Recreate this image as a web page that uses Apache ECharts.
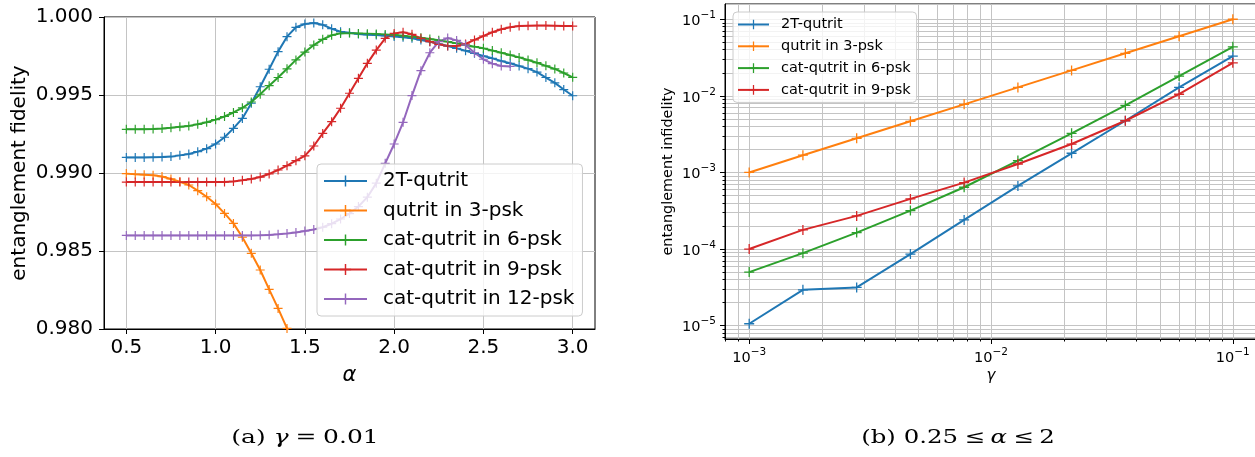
<!DOCTYPE html>
<html>
<head>
<meta charset="utf-8">
<script src="https://cdn.jsdelivr.net/npm/echarts@6/dist/echarts.min.js"></script>
<style>
html,body{margin:0;padding:0;background:#fff;}
#c{width:1255px;height:457px;}
</style>
</head>
<body>
<div id="c"></div>
<script>
// ---------- Panel (a): entanglement fidelity vs alpha (gamma = 0.01) ----------
const alpha = [0.5,0.55,0.6,0.65,0.7,0.75,0.8,0.85,0.9,0.95,1.0,1.05,1.1,1.15,1.2,1.25,1.3,1.35,1.4,1.45,1.5,1.55,1.6,1.65,1.7,1.75,1.8,1.85,1.9,1.95,2.0,2.05,2.1,2.15,2.2,2.25,2.3,2.35,2.4,2.45,2.5,2.55,2.6,2.65,2.7,2.75,2.8,2.85,2.9,2.95,3.0];
const fid2T = [0.99100,0.99100,0.99100,0.99101,0.99102,0.99105,0.99113,0.99122,0.99137,0.99156,0.99186,0.99229,0.99286,0.99350,0.99447,0.99553,0.99665,0.99778,0.99874,0.99934,0.99955,0.99962,0.99950,0.99925,0.99906,0.99899,0.99891,0.99887,0.99884,0.99880,0.99875,0.99870,0.99864,0.99853,0.99842,0.99827,0.99814,0.99799,0.99784,0.99767,0.99750,0.99735,0.99718,0.99703,0.99686,0.99669,0.99647,0.99612,0.99578,0.99535,0.99495];
const fid3psk = [0.98996,0.98992,0.98989,0.98985,0.98977,0.98962,0.98944,0.98923,0.98887,0.98848,0.98801,0.98741,0.98677,0.98588,0.98485,0.98378,0.98254,0.98132,0.98004,0.97870];
const fid6psk = [0.99280,0.99280,0.99281,0.99282,0.99285,0.99290,0.99296,0.99302,0.99312,0.99325,0.99342,0.99362,0.99388,0.99418,0.99455,0.99505,0.99560,0.99612,0.99668,0.99725,0.99775,0.99820,0.99857,0.99883,0.99895,0.99897,0.99895,0.99893,0.99891,0.99888,0.99885,0.99880,0.99874,0.99867,0.99859,0.99851,0.99842,0.99831,0.99820,0.99810,0.99799,0.99785,0.99771,0.99756,0.99741,0.99724,0.99707,0.99687,0.99667,0.99641,0.99613];
const fid9psk = [0.98942,0.98942,0.98942,0.98942,0.98942,0.98942,0.98942,0.98942,0.98942,0.98942,0.98942,0.98943,0.98946,0.98953,0.98962,0.98974,0.98994,0.99019,0.99047,0.99079,0.99110,0.99173,0.99254,0.99329,0.99415,0.99511,0.99607,0.99703,0.99788,0.99863,0.99895,0.99902,0.99889,0.99863,0.99842,0.99825,0.99814,0.99814,0.99827,0.99853,0.99878,0.99902,0.99921,0.99934,0.99942,0.99944,0.99945,0.99945,0.99944,0.99943,0.99942];
const fid12psk = [0.98600,0.98600,0.98600,0.98600,0.98600,0.98600,0.98600,0.98600,0.98600,0.98600,0.98600,0.98600,0.98600,0.98600,0.98600,0.98601,0.98603,0.98607,0.98612,0.98619,0.98628,0.98638,0.98652,0.98675,0.98705,0.98740,0.98785,0.98845,0.98935,0.99062,0.99186,0.99325,0.99496,0.99656,0.99771,0.99842,0.99865,0.99850,0.99820,0.99771,0.99729,0.99701,0.99686,0.99683];
const leftXTicks = [0.5,1.0,1.5,2.0,2.5,3.0];

// ---------- Panel (b): entanglement infidelity vs gamma ----------
const gamma = [0.001,0.001668,0.002783,0.004642,0.007743,0.01292,0.02154,0.03594,0.05995,0.1];
const inf2T = [1.06e-5,2.94e-5,3.16e-5,8.59e-5,2.40e-4,6.67e-4,1.78e-3,4.73e-3,1.29e-2,3.30e-2];
const inf3psk = [0.00100,0.00168,0.00279,0.00465,0.00775,0.0129,0.0215,0.0359,0.0600,0.100];
const inf6psk = [5.0e-5,8.85e-5,1.64e-4,3.18e-4,6.41e-4,1.43e-3,3.24e-3,7.50e-3,1.81e-2,4.36e-2];
const inf9psk = [1.0e-4,1.78e-4,2.71e-4,4.52e-4,7.37e-4,1.29e-3,2.35e-3,4.73e-3,1.05e-2,2.70e-2];

const names = ['2T-qutrit','qutrit in 3-psk','cat-qutrit in 6-psk','cat-qutrit in 9-psk','cat-qutrit in 12-psk'];
const colors = ['#1f77b4','#ff7f0e','#2ca02c','#d62728','#9467bd'];

// minor log grid positions (k * 10^n)
const minorX = [], minorY = [];
for (let n = -4; n <= -1; n++) for (let k = 2; k <= 9; k++) {
  const v = +(k * Math.pow(10, n)).toPrecision(3);
  if (v > Math.pow(10,-3.1) && v < Math.pow(10,-0.9)) minorX.push(v);
}
for (let n = -6; n <= -1; n++) for (let k = 2; k <= 9; k++) {
  const v = +(k * Math.pow(10, n)).toPrecision(3);
  if (v > Math.pow(10,-5.174) && v < Math.pow(10,-0.801)) minorY.push(v);
}

const plus = 'path://M4.35,0h1.3v10h-1.3zM0,4.35h10v1.3h-10z';
const FONT = 'DejaVu Sans';

function mk(name, color, xs, ys, xi, yi, size) {
  return {
    name: name, type: 'line', xAxisIndex: xi, yAxisIndex: yi,
    data: ys.map((v, i) => [xs[i], v]),
    symbol: plus, symbolSize: size, showAllSymbol: true,
    lineStyle: { width: 2, color: color },
    itemStyle: { color: color },
    clip: true, animation: false, z: 3
  };
}

const logLabel = v => {
  const e = Math.round(Math.log10(v));
  return '{b|10}{s|' + (e < 0 ? '\u2212' : '') + Math.abs(e) + '}';
};
const logRich = {
  b: { fontSize: 14.5, fontFamily: FONT, color: '#000', lineHeight: 19, verticalAlign: 'bottom' },
  s: { fontSize: 10.5, fontFamily: FONT, color: '#000', lineHeight: 12, verticalAlign: 'top' }
};
const gridLine = { show: true, lineStyle: { color: '#c4c4c4', width: 1 } };
const axLine = { show: true, lineStyle: { color: '#000', width: 1 } };
const SERIF = 'DejaVu Serif';

const option = {
  backgroundColor: '#fff',
  animation: false,
  textStyle: { fontFamily: FONT },
  grid: [
    { left: 104, top: 17, width: 491, height: 312, show: true, borderColor: '#000', borderWidth: 1, containLabel: false, outerBoundsMode: 'none' },
    { left: 725, top: 4, width: 532, height: 335, show: true, borderColor: '#000', borderWidth: 1, containLabel: false, outerBoundsMode: 'none' }
  ],
  xAxis: [
    { gridIndex: 0, type: 'value', min: 0.375, max: 3.125,
      axisLine: axLine,
      axisTick: { show: true, length: 5, customValues: leftXTicks, lineStyle: { color: '#000' } },
      axisLabel: { customValues: leftXTicks, formatter: v => v.toFixed(1), fontSize: 20, color: '#000', fontFamily: FONT, margin: 9 },
      splitLine: gridLine,
      name: '\u03b1', nameLocation: 'middle', nameGap: 36, nameMoveOverlap: false,
      nameTextStyle: { fontSize: 21, fontStyle: 'italic', color: '#000', fontFamily: FONT } },
    { gridIndex: 1, type: 'log', logBase: 10, min: Math.pow(10, -3.1), max: Math.pow(10, -0.9),
      axisLine: axLine,
      axisTick: { show: true, length: 5, lineStyle: { color: '#000' } },
      axisLabel: { formatter: logLabel, rich: logRich, margin: 8, showMinLabel: false, showMaxLabel: false },
      splitLine: gridLine,
      name: '\u03b3', nameLocation: 'middle', nameGap: 30, nameMoveOverlap: false,
      nameTextStyle: { fontSize: 15, fontStyle: 'italic', color: '#000', fontFamily: FONT } },
    { gridIndex: 1, type: 'log', logBase: 10, position: 'bottom', min: Math.pow(10, -3.1), max: Math.pow(10, -0.9),
      axisLine: { show: false },
      axisTick: { show: true, length: 2.5, customValues: minorX, lineStyle: { color: '#000' } },
      axisLabel: { show: false },
      splitLine: gridLine }
  ],
  yAxis: [
    { gridIndex: 0, type: 'value', min: 0.98, max: 1.0, interval: 0.005,
      axisLine: axLine,
      axisTick: { show: true, length: 5, lineStyle: { color: '#000' } },
      axisLabel: { formatter: v => v.toFixed(3), fontSize: 20, color: '#000', fontFamily: FONT, margin: 11 },
      splitLine: gridLine,
      name: 'entanglement fidelity', nameLocation: 'middle', nameGap: 74, nameMoveOverlap: false,
      nameTextStyle: { fontSize: 20, color: '#000', fontFamily: FONT } },
    { gridIndex: 1, type: 'log', logBase: 10, min: Math.pow(10, -5.174), max: Math.pow(10, -0.801),
      axisLine: axLine,
      axisTick: { show: true, length: 5, lineStyle: { color: '#000' } },
      axisLabel: { formatter: logLabel, rich: logRich, margin: 9, showMinLabel: false, showMaxLabel: false },
      splitLine: gridLine,
      name: 'entanglement infidelity', nameLocation: 'middle', nameGap: 50, nameMoveOverlap: false,
      nameTextStyle: { fontSize: 14.4, color: '#000', fontFamily: FONT } },
    { gridIndex: 1, type: 'log', logBase: 10, position: 'left', min: Math.pow(10, -5.174), max: Math.pow(10, -0.801),
      axisLine: { show: false },
      axisTick: { show: true, length: 2.5, customValues: minorY, lineStyle: { color: '#000' } },
      axisLabel: { show: false },
      splitLine: gridLine }
  ],
  legend: [
    { data: names, orient: 'vertical', left: 317, top: 164,
      itemWidth: 43, itemHeight: 14, itemGap: 9.5, padding: [7, 8, 7, 6],
      backgroundColor: 'rgba(255,255,255,0.8)', borderColor: '#cccccc', borderWidth: 1, borderRadius: 4,
      textStyle: { fontSize: 20, fontFamily: FONT, color: '#000', padding: [0, 0, 0, 11] } },
    { data: names.slice(0, 4), orient: 'vertical', left: 733, top: 12,
      itemWidth: 31, itemHeight: 12, itemGap: 6.8, padding: [5, 6, 5, 4],
      backgroundColor: 'rgba(255,255,255,0.8)', borderColor: '#cccccc', borderWidth: 1, borderRadius: 4,
      textStyle: { fontSize: 14.5, fontFamily: FONT, color: '#000', padding: [0, 0, 0, 7] } }
  ],
  series: [
    mk(names[0], colors[0], alpha, fid2T, 0, 0, 9),
    mk(names[1], colors[1], alpha, fid3psk, 0, 0, 9),
    mk(names[2], colors[2], alpha, fid6psk, 0, 0, 9),
    mk(names[3], colors[3], alpha, fid9psk, 0, 0, 9),
    mk(names[4], colors[4], alpha, fid12psk, 0, 0, 9),
    mk(names[0], colors[0], gamma, inf2T, 1, 1, 10),
    mk(names[1], colors[1], gamma, inf3psk, 1, 1, 10),
    mk(names[2], colors[2], gamma, inf6psk, 1, 1, 10),
    mk(names[3], colors[3], gamma, inf9psk, 1, 1, 10)
  ],
  graphic: [
    { type: 'text', x: 305, y: 438, scaleX: 1.35, z: 10,
      style: { text: '{n|(a)}{g|\u03b3}{e|=}{d|0.01}', align: 'center', verticalAlign: 'middle', textAlign: 'center', textVerticalAlign: 'middle',
        rich: {
          n: { fontFamily: SERIF, fontSize: 18.5, color: '#000', padding: [0, 6, 0, 0] },
          g: { fontFamily: SERIF, fontStyle: 'italic', fontSize: 18.5, color: '#000', padding: [0, 5, 0, 0] },
          e: { fontFamily: SERIF, fontSize: 18.5, color: '#000', padding: [0, 5, 0, 0] },
          d: { fontFamily: SERIF, fontSize: 18.5, color: '#000' }
        } } },
    { type: 'text', x: 958, y: 438, scaleX: 1.32, z: 10,
      style: { text: '{n|(b)}{d|0.25}{e|\u2264}{g|\u03b1}{e|\u2264}{l|2}', align: 'center', verticalAlign: 'middle', textAlign: 'center', textVerticalAlign: 'middle',
        rich: {
          n: { fontFamily: SERIF, fontSize: 18.5, color: '#000', padding: [0, 6, 0, 0] },
          d: { fontFamily: SERIF, fontSize: 18.5, color: '#000', padding: [0, 5, 0, 0] },
          e: { fontFamily: SERIF, fontSize: 18.5, color: '#000', padding: [0, 4, 0, 0] },
          g: { fontFamily: SERIF, fontStyle: 'italic', fontSize: 18.5, color: '#000', padding: [0, 5, 0, 0] },
          l: { fontFamily: SERIF, fontSize: 18.5, color: '#000' }
        } } }
  ]
};

const chart = echarts.init(document.getElementById('c'), null, { renderer: 'canvas' });
chart.setOption(option);
</script>
</body>
</html>
